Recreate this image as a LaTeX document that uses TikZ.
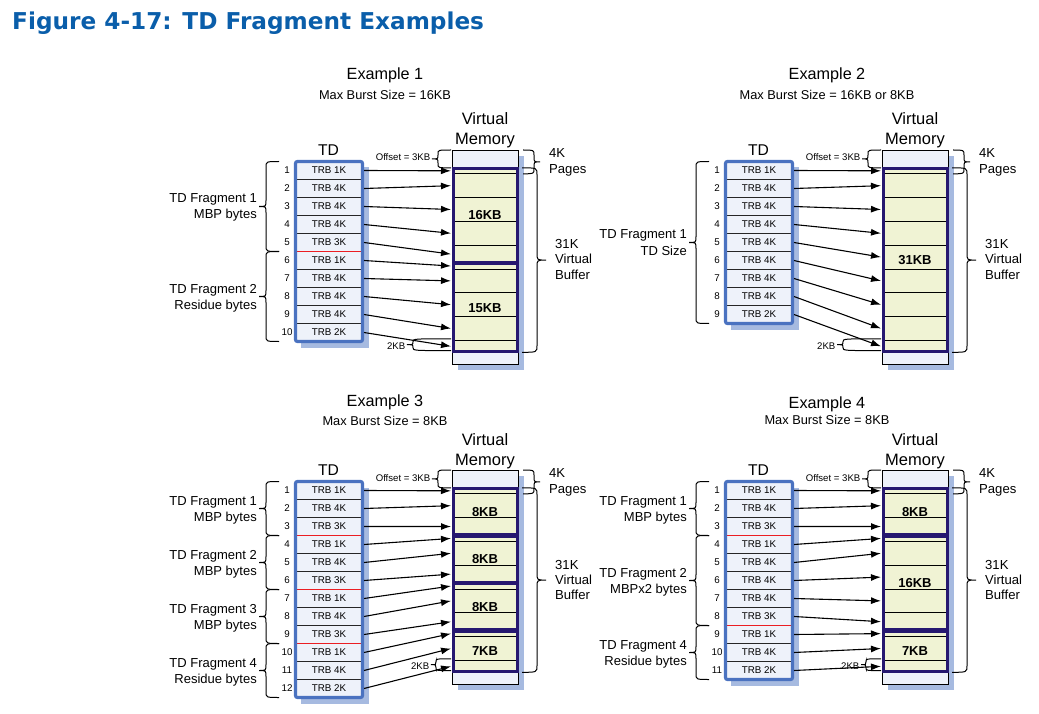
\documentclass[tikz,border=0pt]{standalone}
\usepackage{fontspec}
\setmainfont{Liberation Sans}
\newfontfamily\titlefont{DejaVu Sans}
\usetikzlibrary{arrows.meta}
\definecolor{tdblue}{RGB}{74,114,192}
\definecolor{tdfill}{RGB}{238,242,250}
\definecolor{shadowc}{RGB}{166,186,224}
\definecolor{vmfill}{RGB}{240,243,212}
\definecolor{navy}{RGB}{38,24,112}
\definecolor{redline}{RGB}{235,30,35}
\definecolor{titleblue}{RGB}{10,94,170}
% curly brace: xa (arm x), xs (stem x), xt (tip x), y1, y2, r
\newcommand{\cbr}[6]{%
  \draw[bracestyle] (#1,#4) .. controls (#2,#4) .. (#2,{#4+#6})
    -- (#2,{(#4+#5)/2-#6}) .. controls (#2,{(#4+#5)/2}) .. (#3,{(#4+#5)/2})
    .. controls (#2,{(#4+#5)/2}) .. (#2,{(#4+#5)/2+#6})
    -- (#2,{#5-#6}) .. controls (#2,#5) .. (#1,#5);}
% TD frame shadow: #1 rows
\newcommand{\tdshadow}[1]{\fill[shadowc] (301,167.5) rectangle (369,{161.5+18*#1+6});}
\newcommand{\tdborder}[1]{\draw[tdblue,line width=3.2pt,rounded corners=2pt] (295.5,161.5) rectangle (362.5,{161.5+18*#1});}
% cells: #1 prefix, #2 list i/label
\newcommand{\tdcells}[2]{%
  \foreach \i/\lab in {#2} {
    \node[trbcell] (#1r\i) at (329,{161.5+18*\i-9}) {TRB \lab};
    \node[numlab] (#1n\i) at (287,{161.5+18*\i-9}) {\i};
  }}
\newcommand{\redsep}[1]{\draw[redline,line width=1.4pt] (297,{161.5+18*#1}) -- (361,{161.5+18*#1});}
% arrows: #1 prefix, #2 list i/mid
\newcommand{\tdarrows}[2]{%
  \foreach \i/\m in {#2} {
    \coordinate (#1m\i) at (451,{150+5.95*\m});
    \draw[arr] ([xshift=1.5pt]#1r\i.east) -- (#1m\i);
  }}
% virtual memory frame
\newcommand{\vmframe}{%
  \fill[shadowc] (458,156) rectangle (524,370.2);
  \fill[tdfill] (452,150) rectangle (518,364.2);
  \fill[vmfill] (452,167.85) rectangle (518,352.3);
  \foreach \k in {1,...,8} {\draw[line width=0.9pt] (452,{150+23.8*\k}) -- (518,{150+23.8*\k});}
  \draw[line width=0.9pt] (452,150) rectangle (518,364.2);}
% navy box: #1 start KB, #2 end KB, #3 label, #4 name
\newcommand{\navybox}[4]{%
  \draw[navy,line width=3pt] (453,{150+5.95*#1+0.8}) rectangle (517,{150+5.95*#2-0.8});
  \node[boxlab] (#4) at (485,{150+5.95*(#1+#2)/2}) {#3};}
% fragment: #1 first row, #2 last row, #3 line 1, #4 line 2, #5 name
\newcommand{\frag}[5]{%
  \pgfmathsetmacro\fya{161.5+18*(#1-1)}
  \pgfmathsetmacro\fyb{161.5+18*#2}
  \pgfmathsetmacro\fym{(\fya+\fyb)/2}
  \cbr{279}{266}{259}{\fya}{\fyb}{6}
  \node[fraglab] (#5a) at (257,{\fym-3.5}) {#3};
  \node[fraglab] (#5b) at (257,{\fym+12.5}) {#4};}
% common labels: #1 prefix, #2 x of 2KB tip, #3 x of 2KB stem
\newcommand{\common}[3]{%
  \node[vmlab] (#1v1) at (485,125) {Virtual};
  \node[vmlab] (#1v2) at (485,145) {Memory};
  \node[tdlab] (#1td) at (328.5,155.5) {TD};
  \cbr{451}{438}{432}{150}{167.85}{4}
  \node[smalllab] (#1off) at (430.5,161) {Offset = 3KB};
  \cbr{451}{#3}{#2}{338.8}{350.6}{3}
  \node[smalllab] (#1kb) at ({#2-1.5},349.7) {2KB};
  \cbr{523}{534}{540}{150}{173.8}{5}
  \node[sidelab] (#1p1) at (549,157.7) {4K};
  \node[sidelab] (#1p2) at (549,173.3) {Pages};
  \cbr{522}{537}{546}{167.85}{352.3}{7}
  \node[sidelab] (#1b1) at (555,249) {31K};
  \node[sidelab] (#1b2) at (555,264) {Virtual};
  \node[sidelab] (#1b3) at (555,279.5) {Buffer};}
\begin{document}
\begin{tikzpicture}[x=1pt,y=-1pt,
  trbcell/.style={draw=black!85,line width=1pt,fill=tdfill,minimum width=66pt,minimum height=18pt,inner sep=0pt,font=\fontsize{9.8}{11}\selectfont},
  numlab/.style={inner sep=0pt,font=\fontsize{9.8}{11}\selectfont},
  arr/.style={-{Latex[length=10pt,width=7pt]},line width=1.1pt},
  bracestyle/.style={line width=1pt},
  boxlab/.style={inner sep=0pt,font=\bfseries\fontsize{13}{15}\selectfont},
  fraglab/.style={inner sep=0pt,anchor=base east,font=\fontsize{13}{15}\selectfont},
  sidelab/.style={inner sep=0pt,anchor=base west,font=\fontsize{13.1}{15}\selectfont},
  vmlab/.style={inner sep=0pt,anchor=base,font=\fontsize{16.5}{19}\selectfont},
  tdlab/.style={inner sep=0pt,anchor=base,font=\fontsize{15.6}{18}\selectfont},
  smalllab/.style={inner sep=0pt,anchor=base east,font=\fontsize{9.6}{11}\selectfont},
  extitle/.style={inner sep=0pt,anchor=base,font=\fontsize{16.2}{19}\selectfont},
  exsub/.style={inner sep=0pt,anchor=base,font=\fontsize{12.8}{15}\selectfont}]
\useasboundingbox (0,0) rectangle (1039,714);
\node[anchor=base west,inner sep=0pt,text=titleblue,font=\titlefont\bfseries\fontsize{23.2}{28}\selectfont] (title) at (12,30) {Figure 4-17: TD Fragment Examples};

% ---------- titles ----------
\node[extitle] (t1) at (385,80) {Example 1};
\node[exsub] (s1) at (385,99.3) {Max Burst Size = 16KB};
\node[extitle] (t2) at (827,80) {Example 2};
\node[exsub] (s2) at (827,99.3) {Max Burst Size = 16KB or 8KB};
\node[extitle] (t3) at (385,406) {Example 3};
\node[exsub] (s3) at (385,425.7) {Max Burst Size = 8KB};
\node[extitle] (t4) at (827,408) {Example 4};
\node[exsub] (s4) at (827,424.5) {Max Burst Size = 8KB};

% ---------- Example 1 ----------
\begin{scope}
  \tdshadow{10}
  \vmframe
  \navybox{3}{19}{16KB}{a16}
  \navybox{19}{34}{15KB}{a15}
  \tdcells{a}{1/1K,2/4K,3/4K,4/4K,5/3K,6/1K,7/4K,8/4K,9/4K,10/2K}
  \redsep{5}
  \tdborder{10}
  \tdarrows{a}{1/3.5,2/6,3/10,4/14,5/17.5,6/19.5,7/22,8/26,9/30,10/33}
  \frag{1}{5}{TD Fragment 1}{MBP bytes}{af1}
  \frag{6}{10}{TD Fragment 2}{Residue bytes}{af2}
  \common{a}{407}{413}
\end{scope}

% ---------- Example 2 ----------
\begin{scope}[shift={(430,0)}]
  \tdshadow{9}
  \vmframe
  \navybox{3}{34}{31KB}{b31}
  \tdcells{b}{1/1K,2/4K,3/4K,4/4K,5/4K,6/4K,7/4K,8/4K,9/2K}
  \tdborder{9}
  \tdarrows{b}{1/3.5,2/6,3/10,4/14,5/18,6/22,7/26,8/30,9/33}
  \frag{1}{9}{TD Fragment 1}{TD Size}{bf1}
  \common{b}{407}{413}
\end{scope}

% ---------- Example 3 ----------
\begin{scope}[shift={(0,320)}]
  \tdshadow{12}
  \vmframe
  \navybox{3}{11}{8KB}{c8a}
  \navybox{11}{19}{8KB}{c8b}
  \navybox{19}{27}{8KB}{c8c}
  \navybox{27}{34}{7KB}{c7}
  \tdcells{c}{1/1K,2/4K,3/3K,4/1K,5/4K,6/3K,7/1K,8/4K,9/3K,10/1K,11/4K,12/2K}
  \redsep{3}\redsep{6}\redsep{9}
  \tdborder{12}
  \tdarrows{c}{1/3.5,2/6,3/9.5,4/11.5,5/14,6/17.5,7/19.5,8/22,9/25.5,10/27.5,11/30,12/33}
  \frag{1}{3}{TD Fragment 1}{MBP bytes}{cf1}
  \frag{4}{6}{TD Fragment 2}{MBP bytes}{cf2}
  \frag{7}{9}{TD Fragment 3}{MBP bytes}{cf3}
  \frag{10}{12}{TD Fragment 4}{Residue bytes}{cf4}
  \common{c}{431}{436}
\end{scope}

% ---------- Example 4 ----------
\begin{scope}[shift={(430,320)}]
  \tdshadow{11}
  \vmframe
  \navybox{3}{11}{8KB}{d8}
  \navybox{11}{27}{16KB}{d16}
  \navybox{27}{34}{7KB}{d7}
  \tdcells{d}{1/1K,2/4K,3/3K,4/1K,5/4K,6/4K,7/4K,8/3K,9/1K,10/4K,11/2K}
  \redsep{3}\redsep{8}
  \tdborder{11}
  \tdarrows{d}{1/3.5,2/6,3/9.5,4/11.5,5/14,6/18,7/22,8/25.5,9/27.5,10/30,11/33}
  \frag{1}{3}{TD Fragment 1}{MBP bytes}{df1}
  \frag{4}{8}{TD Fragment 2}{MBPx2 bytes}{df2}
  \frag{9}{11}{TD Fragment 4}{Residue bytes}{df4}
  \common{d}{431}{436}
\end{scope}
\end{tikzpicture}
\end{document}
